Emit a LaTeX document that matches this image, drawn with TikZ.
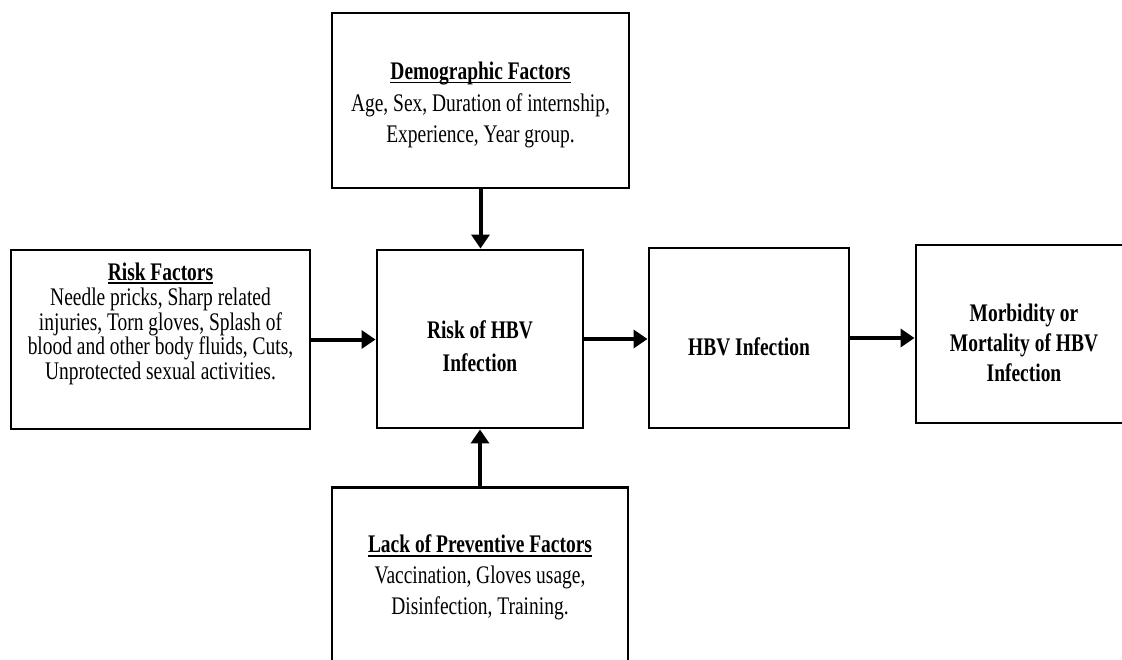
\documentclass[tikz,border=0pt]{standalone}
\usepackage{graphicx}
\usepackage{fontspec}
\setmainfont{Liberation Serif}
\usetikzlibrary{arrows.meta,calc}
\newsavebox\ulbox
\newcommand\ulx[1]{\sbox\ulbox{#1}\rlap{\rule[-2.3pt]{\wd\ulbox}{0.9pt}}\usebox\ulbox}
\newcommand\vs[2]{\scalebox{1}[1.3]{\vbox{\baselineskip=#1pt\lineskiplimit=-100pt\lineskip=0pt\halign{\hfil##\hfil\cr#2\crcr}}}}
\tikzset{
  box/.style={draw=black, line width=2.2pt, fill=white, inner sep=0pt},
  txt/.style={inner sep=0pt, font=\fontsize{14.6}{17}\selectfont, text=black},
  arr/.style={line width=3pt, -{Triangle[length=10.5pt,width=13.5pt]}}
}
\begin{document}
\begin{tikzpicture}[x=0.75pt,y=-0.75pt]
\useasboundingbox (0,0) rectangle (1122,660);
\fill[white] (0,0) rectangle (1122,660);
\clip (0,0) rectangle (1122,660);

\node[box, minimum width=222.75pt, minimum height=131.25pt] (demo) at (480.5,100.5) {};
\node[box, minimum width=224.25pt, minimum height=134.25pt] (risk) at (160.5,339.5) {};
\node[box, minimum width=154.5pt, minimum height=133.5pt] (center) at (480,339) {};
\node[box, minimum width=150pt, minimum height=135pt] (hbv) at (749,338) {};
\node[box, minimum width=162pt, minimum height=133.5pt] (morb) at (1024,334) {};
\node[box, minimum width=222pt, minimum height=135pt] (prev) at (480,577.5) {};

\node[txt] (demot) at ($(demo.center)+(0,4.5)$) {\vs{18.3}{\textbf{\ulx{Demographic Factors}}\cr Age, Sex, Duration of internship,\cr Experience, Year group.}};
\node[txt] (riskt) at ($(risk.center)+(0,-16)$) {\vs{14.1}{\textbf{\ulx{Risk Factors}}\cr\noalign{\vskip0.8pt} Needle pricks, Sharp related\cr injuries, Torn gloves, Splash of\cr blood and other body fluids, Cuts,\cr Unprotected sexual activities.}};
\node[txt] (centert) at ($(center.center)+(0,7.5)$) {\vs{19}{\textbf{Risk of HBV}\cr\textbf{Infection}}};
\node[txt] (hbvt) at ($(hbv.center)+(0,8.5)$) {\vs{19}{\textbf{HBV Infection}}};
\node[txt] (morbt) at ($(morb.center)+(0,8.5)$) {\vs{17.3}{\textbf{Morbidity or}\cr\textbf{Mortality of HBV}\cr\textbf{Infection}}};
\node[txt] (prevt) at (prev.center) {\vs{17.8}{\textbf{\ulx{Lack of Preventive Factors}}\cr Vaccination, Gloves usage,\cr Disinfection, Training.}};

\draw[arr] (demo.south) -- (demo.south |- center.north);
\draw[arr] (prev.north) -- (prev.north |- center.south);
\draw[arr] (risk.east) -- (risk.east -| center.west);
\draw[arr] (center.east) -- (center.east -| hbv.west);
\draw[arr] (hbv.east) -- (hbv.east -| morb.west);
\end{tikzpicture}
\end{document}
